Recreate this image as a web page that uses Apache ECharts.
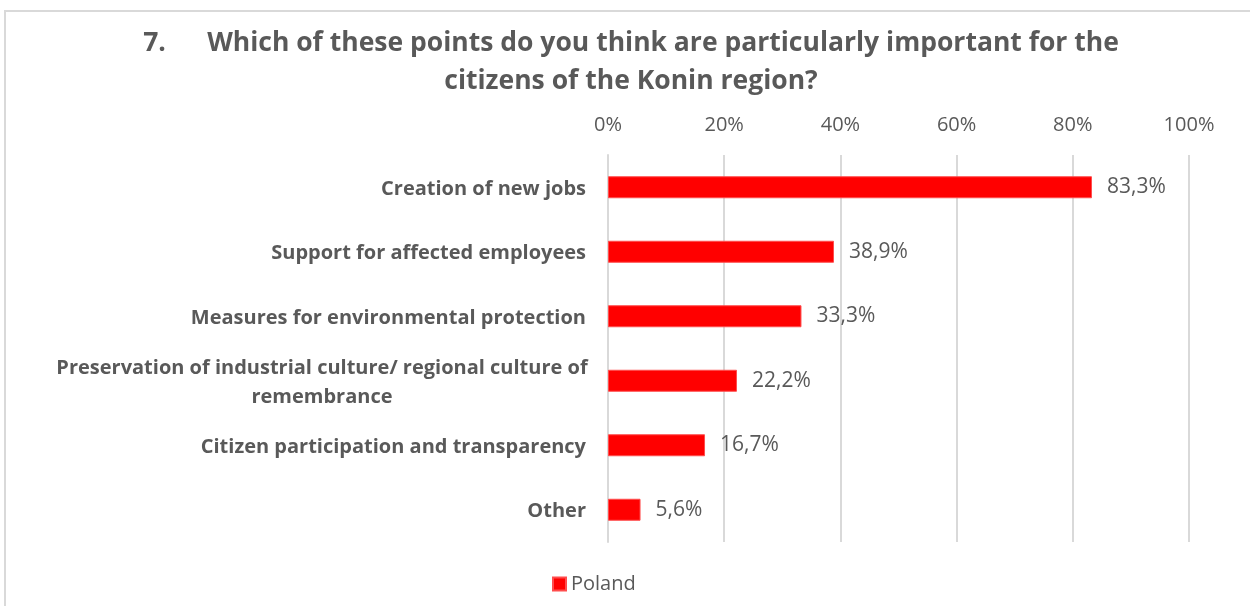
<!DOCTYPE html>
<html>
<head>
<meta charset="utf-8">
<script src="https://cdn.jsdelivr.net/npm/echarts@6/dist/echarts.min.js"></script>
<style>
  html, body { margin: 0; padding: 0; background: #fff; }
  #frame { position: absolute; left: 4px; top: 10px; width: 1260px; height: 620px;
           border: 2px solid #d9d9d9; box-sizing: border-box; }
  #chart { position: absolute; left: 0; top: 0; width: 1250px; height: 606px; }
</style>
</head>
<body>
<div id="frame"></div>
<div id="chart"></div>
<script>
// Survey question 7: share of respondents naming each point (Poland)
const titleLine1 = '7.      Which of these points do you think are particularly important for the';
const titleLine2 = 'citizens of the Konin region?';
const categories = [
  'Creation of new jobs',
  'Support for affected employees',
  'Measures for environmental protection',
  'Preservation of industrial culture/ regional culture of remembrance',
  'Citizen participation and transparency',
  'Other'
];
const seriesName = 'Poland';
const values = [83.3, 38.9, 33.3, 22.2, 16.7, 5.6];
const tickValues = [0, 20, 40, 60, 80, 100];

const textColor = '#595959';
const fontFamily = '"Open Sans", sans-serif';

// Wrap long category names into centred lines
function wrapLabel(s) {
  const maxLen = 56;
  if (s.length <= maxLen) return '{w|' + s + '}';
  const cut = s.lastIndexOf(' ', maxLen);
  return '{c|' + s.slice(0, cut) + '}\n{c|' + s.slice(cut + 1) + '}';
}

const chart = echarts.init(document.getElementById('chart'));
chart.setOption({
  animation: false,
  backgroundColor: 'transparent',
  title: {
    text: titleLine1 + '\n' + titleLine2,
    left: 626,
    textAlign: 'center',
    top: 19,
    textStyle: { color: textColor, fontFamily: fontFamily, fontWeight: 'bold', fontSize: 26.5, lineHeight: 38 }
  },
  legend: {
    bottom: 12,
    left: 552,
    padding: 0,
    itemWidth: 13,
    itemHeight: 13,
    itemGap: 6,
    icon: 'rect',
    textStyle: { color: textColor, fontFamily: fontFamily, fontSize: 20 },
    data: [seriesName]
  },
  grid: { left: 608, right: 61, top: 155, bottom: 64 },
  xAxis: {
    type: 'value',
    position: 'top',
    min: 0,
    max: 100,
    interval: 20,
    axisLine: { show: false },
    axisTick: { show: false },
    splitLine: { lineStyle: { color: '#d9d9d9', width: 2 } },
    axisLabel: {
      margin: 20,
      color: textColor,
      fontFamily: fontFamily,
      fontSize: 20,
      formatter: v => tickValues.includes(v) ? v + '%' : ''
    }
  },
  yAxis: {
    type: 'category',
    inverse: true,
    data: categories,
    axisLine: { show: true, lineStyle: { color: '#d9d9d9', width: 2 } },
    axisTick: { show: false },
    axisLabel: {
      margin: 22,
      padding: [4, 0, 0, 0],
      color: textColor,
      fontFamily: fontFamily,
      fontWeight: 'bold',
      fontSize: 20,
      formatter: wrapLabel,
      rich: {
        w: { color: textColor, fontFamily: fontFamily, fontWeight: 'bold', fontSize: 20 },
        c: { color: textColor, fontFamily: fontFamily, fontWeight: 'bold', fontSize: 20,
             width: 528, align: 'center', lineHeight: 29 }
      }
    }
  },
  series: [{
    name: seriesName,
    type: 'bar',
    data: values,
    barWidth: 22,
    itemStyle: { color: '#ff0000', borderColor: '#ff4d4d', borderWidth: 1 },
    label: {
      show: true,
      position: 'right',
      distance: 15,
      padding: [3, 0, 0, 0],
      color: textColor,
      fontFamily: fontFamily,
      fontSize: 21,
      formatter: p => p.value.toFixed(1).replace('.', ',') + '%'
    }
  }]
});
</script>
</body>
</html>
